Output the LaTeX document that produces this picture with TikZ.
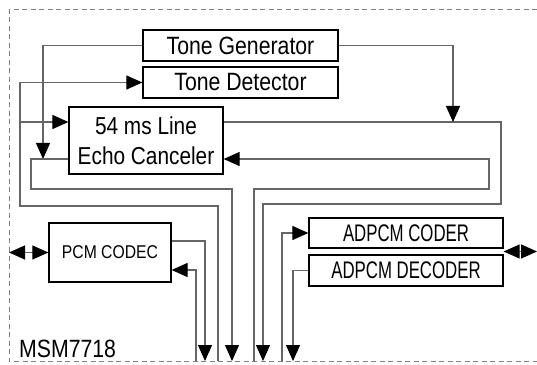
\documentclass[tikz,border=0pt]{standalone}
\usepackage{fontspec}
\setmainfont{Liberation Sans}[FakeStretch=0.85]
\newfontfamily\narrowfont{Liberation Sans}[FakeStretch=0.7]
\usetikzlibrary{arrows.meta}

\begin{document}
\begin{tikzpicture}[x=1pt,y=1pt,>={Triangle[length=16pt,width=14pt,color=black,fill=black]},
  blk/.style={draw=black, line width=1.3pt, rectangle, inner sep=0pt, font=\fontsize{25}{30}\selectfont},
  wire/.style={draw=black!60, line width=1.2pt}]
        \useasboundingbox (0,0) rectangle (537,364);
        % chip outline
        \draw[black!50, line width=1pt, dash pattern=on 5pt off 3.5pt] (537,354) -- (9,354) -- (9,3) -- (537,3);
        \node (chip) [anchor=base west, inner sep=0pt, font=\fontsize{25}{30}\selectfont] at (19,7) {MSM7718};

        \node (gen) [blk, minimum width=195pt, minimum height=31pt] at (240.5,318.5) {Tone Generator};
        \node (det) [blk, minimum width=195pt, minimum height=31pt] at (240.5,281.5) {Tone Detector};
        \node (ec) [blk, minimum width=154pt, minimum height=67pt, align=center, font=\fontsize{24.5}{30}\selectfont] at (146,223.5) {54 ms Line\\Echo Canceler};
        \node (pcm) [blk, minimum width=122pt, minimum height=59pt, font=\fontsize{18.5}{23}\selectfont] at (110,111.5) {PCM CODEC};
        \node (coder) [blk, minimum width=194pt, minimum height=30pt, font=\narrowfont\fontsize{24}{28}\selectfont] at (406,131) {ADPCM CODER};
        \node (dec) [blk, minimum width=194pt, minimum height=31pt, font=\narrowfont\fontsize{24}{28}\selectfont] at (406,93.5) {ADPCM DECODER};

        % free ends
        \coordinate (gen in) at (43,205);
        \coordinate (gen out) at (453,242);
        \coordinate (split) at (20,242);
        \coordinate (pcm io) at (9,111.5);
        \coordinate (bus) at (537,112.5);
        \coordinate (pcmin) at (196,3);
        \coordinate (pcmout) at (205,3);
        \coordinate (ecin) at (218,3);
        \coordinate (ecout) at (232,3);
        \coordinate (lin) at (254,3);
        \coordinate (lout) at (263,3);
        \coordinate (cin) at (282,3);
        \coordinate (dout) at (293,3);

        \draw[wire,->] (gen.west) -| (gen in);
        \draw[wire,->] ([yshift=-18.5pt]ec.west) -| (31,175) -| (ecout);
        \draw[wire,->] (ecin) |- (20,158) |- (det.west);
        \draw[wire,->] (split) -- ([yshift=18.5pt]ec.west);
        \draw[wire,->] ([yshift=18.5pt]ec.east) -| (501,160) -| (lout);
        \draw[wire,->] (gen.east) -| (gen out);
        \draw[wire,->] (lin) |- (489,175) |- ([yshift=-18.5pt]ec.east);
        \draw[wire,->] ([yshift=11.5pt]pcm.east) -| (pcmout);
        \draw[wire,->] (pcmin) |- ([yshift=-17.5pt]pcm.east);
        \draw[wire,->] (cin) |- (coder.west);
        \draw[wire,->] (dec.west) -| (dout);
        \draw[wire,<->] (pcm.west) -- (pcm io);
        \draw[wire,<->] (coder.south east |- bus) -- (bus);
\end{tikzpicture}
\end{document}
